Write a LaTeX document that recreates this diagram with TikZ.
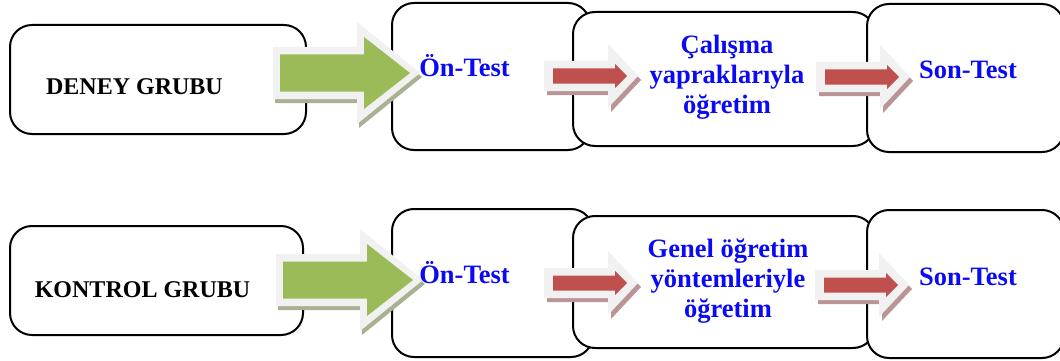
\documentclass[tikz,border=0pt]{standalone}
\usepackage{fontspec}
\setmainfont{Liberation Serif}
\definecolor{arrgreen}{HTML}{9BBB59}
\definecolor{arrred}{HTML}{C0504D}
\definecolor{glow}{HTML}{F1F1F1}
\definecolor{greenshade}{HTML}{A8B293}
\definecolor{redshade}{HTML}{B99595}
\definecolor{labelblue}{HTML}{0A0AF5}

% wide green block arrow with a light rim and a drop shadow; origin = tail, middle
\newcommand\grnarrow[2]{%
  \begin{scope}[shift={(#1,#2)}]
    \fill[greenshade] (-5,-22) -- (79,-22) -- (79,-47) -- (142,4) -- (79,55) -- (79,30) -- (-5,30) -- cycle;
    \fill[glow] (-7,-26) -- (77,-26) -- (77,-51) -- (140,0) -- (77,51) -- (77,26) -- (-7,26) -- cycle;
    \fill[arrgreen] (0,-18.5) -- (84,-18.5) -- (84,-36) -- (130,0) -- (84,36) -- (84,18.5) -- (0,18.5) -- cycle;
  \end{scope}}
% narrow red block arrow with a light rim and a drop shadow
\newcommand\redarrow[2]{%
  \begin{scope}[shift={(#1,#2)}]
    \fill[redshade] (-6,-11) -- (58,-11) -- (58,-28) -- (88,4) -- (58,36) -- (58,19) -- (-6,19) -- cycle;
    \fill[glow] (-9,-15) -- (55,-15) -- (55,-32) -- (85,0) -- (55,32) -- (55,15) -- (-9,15) -- cycle;
    \fill[arrred] (0,-7.5) -- (62,-7.5) -- (62,-12) -- (74,0) -- (62,12) -- (62,7.5) -- (0,7.5) -- cycle;
  \end{scope}}

\begin{document}
\begin{tikzpicture}[x=1pt,y=-1pt,
  box/.style={draw=black, line width=2pt, fill=white, rounded corners=22pt, inner sep=0pt},
  grouplabel/.style={font=\fontsize{24}{28}\selectfont\bfseries, text=black, anchor=base, inner sep=0pt},
  steplabel/.style={font=\fontsize{26.5}{30}\selectfont\bfseries, text=labelblue, anchor=base, inner sep=0pt, align=center}]
\useasboundingbox (0,0) rectangle (1060,361);

% experimental group
\node[box, minimum width=296pt, minimum height=109pt] (deney) at (158,79.5) {};
\node[box, minimum width=198pt, minimum height=147pt] (on1) at (491,76.5) {};
\node[box, minimum width=302pt, minimum height=134pt] (cal) at (724,79) {};
\node[box, minimum width=197pt, minimum height=148pt] (son1) at (965.5,78) {};

% control group
\node[box, minimum width=293pt, minimum height=109pt] (kontrol) at (156.5,280.5) {};
\node[box, minimum width=201pt, minimum height=148pt] (on2) at (492.5,283) {};
\node[box, minimum width=302pt, minimum height=132pt] (gen) at (724,282) {};
\node[box, minimum width=197pt, minimum height=148pt] (son2) at (965.5,284) {};

% block arrows
\grnarrow{280}{73}
\redarrow{553}{76}
\redarrow{825}{77}
\grnarrow{283}{280}
\redarrow{553}{283}
\redarrow{824}{285}

% labels (base of a multi-line label is its last line)
\node[grouplabel] (deneyt) at (134.5,95) {DENEY GRUBU};
\node[steplabel] (ont1) at (464.5,77) {Ön-Test};
\node[steplabel] (calt) at (727,113) {Çalışma\\yapraklarıyla\\öğretim};
\node[steplabel] (sont1) at (968,78) {Son-Test};

\node[grouplabel] (kontrolt) at (142.5,297) {KONTROL GRUBU};
\node[steplabel] (ont2) at (464.5,283) {Ön-Test};
\node[steplabel] (gent) at (728,317) {Genel öğretim\\yöntemleriyle\\öğretim};
\node[steplabel] (sont2) at (968,285) {Son-Test};
\end{tikzpicture}
\end{document}
